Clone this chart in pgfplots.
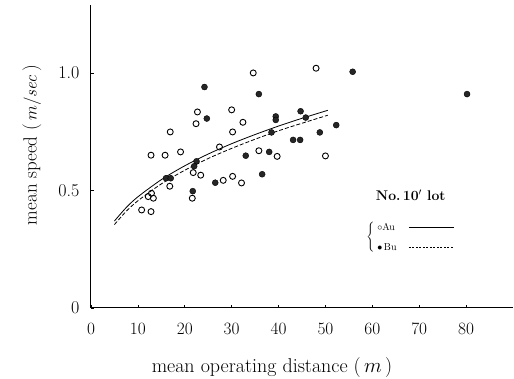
\documentclass[border=0pt]{standalone}
\usepackage{pgfplots}
\pgfplotsset{compat=1.18}
\begin{document}
\begin{tikzpicture}
\useasboundingbox (-91pt,-71pt) rectangle (423pt,308pt);
\begin{axis}[
  at={(0,0)}, anchor=south west,
  scale only axis, width=422pt, height=303pt,
  xmin=0, xmax=90, ymin=0, ymax=1.289,
  axis lines*=left,
  axis line style={line width=1pt},
  xtick={0,10,...,80}, ytick={0,0.5,1.0},
  yticklabels={0,0.5,1.0},
  tick align=inside, major tick length=3pt,
  tick style={black, line width=0.6pt},
  ticklabel style={font=\fontsize{18}{18}\selectfont},
  xticklabel style={yshift=-12pt},
  yticklabel style={xshift=-8pt},
  xlabel={mean operating distance (\,$m$\,)},
  ylabel={mean speed (\,$m/\mathit{sec}$\,)},
  every axis x label/.style={at={(rel axis cs:0.429,0)}, anchor=base, yshift=-65pt, font=\fontsize{20}{20}\selectfont},
  every axis y label/.style={at={(rel axis cs:0,0.538)}, anchor=center, rotate=90, yshift=59pt, font=\fontsize{19}{19}\selectfont},
  clip=false,
]
% Au (open circles)
\addplot[only marks, mark=o, mark size=3pt, mark options={line width=0.9pt, black}] coordinates {
(34.6,1.00) (48.0,1.02) (22.7,0.834) (30.0,0.843) (22.4,0.784) (32.4,0.79)
(16.9,0.749) (30.2,0.749) (27.4,0.685) (12.8,0.65) (15.8,0.65) (19.1,0.664)
(35.8,0.669) (39.7,0.645) (50.0,0.647) (21.8,0.576) (23.4,0.565) (28.2,0.543)
(30.2,0.56) (32.1,0.532) (16.8,0.518) (21.6,0.467) (12.9,0.488) (12.2,0.474)
(13.3,0.467) (10.8,0.417) (12.8,0.41)
};
% Bu (filled circles)
\addplot[only marks, mark=*, mark size=3pt, mark options={black, fill=black!85}] coordinates {
(24.2,0.94) (35.8,0.91) (24.7,0.806) (39.4,0.815) (39.4,0.80) (44.7,0.837)
(45.8,0.81) (38.5,0.747) (48.8,0.747) (52.3,0.778) (43.1,0.715) (44.6,0.715)
(33.0,0.648) (38.0,0.664) (22.5,0.624) (22.0,0.603) (36.5,0.569) (26.5,0.533)
(16.0,0.552) (17.0,0.552) (21.7,0.497) (55.8,1.005) (80.2,0.91)
};
% Au fit (solid)
\addplot[black, line width=0.8pt, smooth] coordinates {
(5,0.370) (7.5,0.427) (10,0.473) (15,0.546) (20,0.605) (25,0.655)
(30,0.699) (35,0.738) (40,0.774) (45,0.807) (50.5,0.841)
};
% Bu fit (dashed)
\addplot[black, line width=0.8pt, dash pattern=on 4pt off 2pt, smooth] coordinates {
(5,0.355) (7.5,0.411) (10,0.456) (15,0.528) (20,0.586) (25,0.636)
(30,0.679) (35,0.718) (40,0.754) (45,0.786) (50.5,0.820)
};
% legend
\node[font=\fontsize{14}{14}\selectfont\bfseries] at (axis cs:68.2,0.48) {No.\,10$'$ lot};
\node[font=\fontsize{10}{10}\selectfont, anchor=center, inner sep=0pt] at (axis cs:59.6,0.302) {$\Bigg\{$};
\node[font=\fontsize{10}{10}\selectfont, anchor=west] at (axis cs:60.3,0.345) {$\circ$Au};
\node[font=\fontsize{10}{10}\selectfont, anchor=west] at (axis cs:60.3,0.26) {$\bullet$\,Bu};
\draw[black, line width=0.6pt] (axis cs:67.8,0.345) -- (axis cs:77.4,0.345);
\draw[black, line width=0.6pt, dash pattern=on 2pt off 1.5pt] (axis cs:67.8,0.26) -- (axis cs:77.4,0.26);
\end{axis}
\end{tikzpicture}
\end{document}
